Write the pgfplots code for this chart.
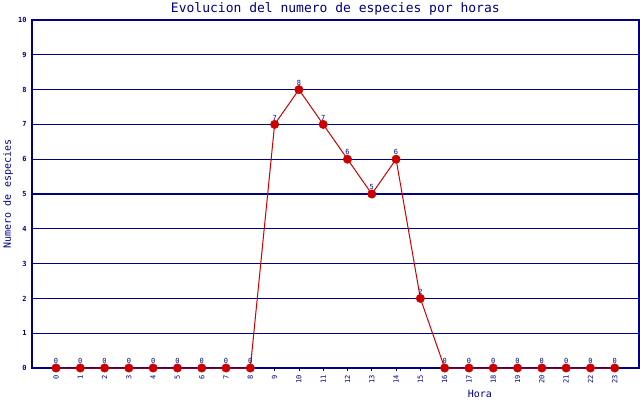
\documentclass[border=0pt]{standalone}
\usepackage{fontspec}
\setmainfont{DejaVu Sans Mono}
\usepackage{pgfplots}
\pgfplotsset{compat=1.18}
\definecolor{navy}{RGB}{0,0,128}
\definecolor{dred}{RGB}{204,0,0}
\begin{document}
\begin{tikzpicture}
\useasboundingbox[fill=white] (0,0) rectangle (640pt,400pt);
\begin{axis}[
  at={(31.7pt,32pt)}, anchor=south west,
  scale only axis, width=607.3pt, height=348pt,
  xmin=-1, xmax=24, ymin=0, ymax=10,
  clip=false,
  axis line style={navy, line width=1.6pt},
  xtick={0,...,23}, ytick={0,...,10},
  xtick pos=bottom, ytick pos=left,
  ymajorgrids, grid style={navy, line width=1.3pt},
  tick align=outside,
  xtick style={navy, line width=0.8pt},
  major tick length=3pt,
  ytick style={draw=none},
  /pgf/number format/assume math mode=true,
  typeset ticklabels with strut/.code={},
  xticklabel style={rotate=90, anchor=east, inner sep=0pt, font=\fontsize{7}{8}\selectfont, text=navy, xshift=-4pt},
  yticklabel style={anchor=east, inner sep=0pt, font=\fontsize{7}{8}\selectfont\bfseries, text=navy, xshift=-2pt},
  title={Evolucion del numero de especies por horas},
  title style={at={(axis description cs:0.5,1.0316)}, anchor=center, yshift=-6pt, font=\fontsize{13}{14}\selectfont, text=navy, inner sep=0pt},
  xlabel={Hora},
  xlabel style={at={(axis description cs:0.738,-0.0747)}, anchor=center, font=\fontsize{10}{11}\selectfont, text=navy, inner sep=0pt},
  ylabel={Numero de especies},
  ylabel style={at={(axis description cs:-0.039,0.5)}, anchor=center, font=\fontsize{10}{11}\selectfont, text=navy, inner sep=0pt},
  nodes near coords,
  every node near coord/.style={anchor=south, inner sep=0pt, yshift=4pt, font=\fontsize{7}{8}\selectfont, text=navy},
]
\addplot[dred, line width=1pt, mark=*, mark size=4.2pt, mark options={fill=dred, draw=dred, line width=0.5pt}] coordinates {
(0,0) (1,0) (2,0) (3,0) (4,0) (5,0) (6,0) (7,0) (8,0) (9,7) (10,8) (11,7)
(12,6) (13,5) (14,6) (15,2) (16,0) (17,0) (18,0) (19,0) (20,0) (21,0) (22,0) (23,0)
};
\end{axis}
\end{tikzpicture}
\end{document}
